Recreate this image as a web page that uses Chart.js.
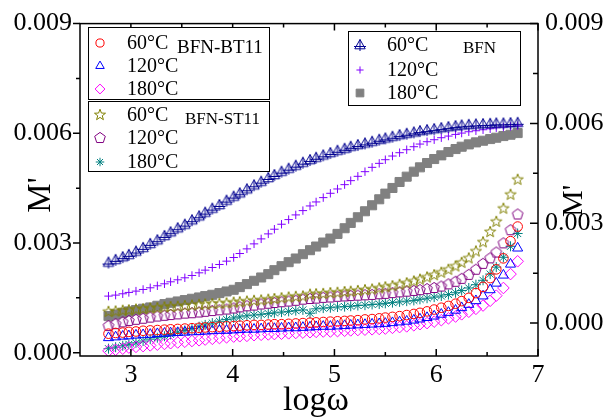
<!DOCTYPE html>
<html>
<head>
<meta charset="utf-8">
<script src="https://cdn.jsdelivr.net/npm/chart.js@4.4.1/dist/chart.umd.min.js"></script>
<style>
  body { margin: 0; background: #fff; }
</style>
</head>
<body>
<canvas id="myChart" width="608" height="417"></canvas>
<script>
// log(omega) values shared by every curve
const logw = [
  2.78, 2.85, 2.92, 2.98, 3.05, 3.12, 3.19, 3.26, 3.33, 3.39,
  3.46, 3.53, 3.60, 3.67, 3.73, 3.80, 3.87, 3.94, 4.01, 4.07,
  4.14, 4.21, 4.28, 4.35, 4.41, 4.48, 4.55, 4.62, 4.69, 4.76,
  4.82, 4.89, 4.96, 5.03, 5.10, 5.16, 5.23, 5.30, 5.37, 5.44,
  5.50, 5.57, 5.64, 5.71, 5.78, 5.84, 5.91, 5.98, 6.05, 6.12,
  6.19, 6.25, 6.32, 6.39, 6.46, 6.53, 6.59, 6.66, 6.73, 6.80
];

// BFN-BT11 (left axis)
const bt60 = [
  0.00052, 0.00054, 0.00055, 0.00057, 0.00058, 0.00060, 0.00061, 0.00062, 0.00063, 0.00064,
  0.00065, 0.00066, 0.00067, 0.00068, 0.00069, 0.00070, 0.00071, 0.00072, 0.00073, 0.00074,
  0.00075, 0.00076, 0.00076, 0.00077, 0.00078, 0.00078, 0.00079, 0.00080, 0.00081, 0.00082,
  0.00083, 0.00084, 0.00085, 0.00086, 0.00087, 0.00088, 0.00089, 0.00091, 0.00092, 0.00094,
  0.00096, 0.00098, 0.00100, 0.00103, 0.00106, 0.00109, 0.00113, 0.00118, 0.00123, 0.00128,
  0.00134, 0.00141, 0.00150, 0.00163, 0.00180, 0.00204, 0.00228, 0.00258, 0.00305, 0.00345
];
const bt120 = [
  0.00041, 0.00043, 0.00045, 0.00046, 0.00048, 0.00049, 0.00050, 0.00052, 0.00053, 0.00054,
  0.00055, 0.00056, 0.00057, 0.00058, 0.00059, 0.00060, 0.00061, 0.00061, 0.00062, 0.00063,
  0.00064, 0.00064, 0.00065, 0.00066, 0.00066, 0.00067, 0.00068, 0.00068, 0.00069, 0.00070,
  0.00071, 0.00072, 0.00072, 0.00073, 0.00074, 0.00075, 0.00076, 0.00077, 0.00078, 0.00079,
  0.00080, 0.00082, 0.00084, 0.00086, 0.00089, 0.00092, 0.00096, 0.00100, 0.00105, 0.00110,
  0.00116, 0.00123, 0.00132, 0.00142, 0.00155, 0.00172, 0.00190, 0.00212, 0.00242, 0.00286
];
const bt180 = [
  0.00005, 0.00008, 0.00011, 0.00014, 0.00016, 0.00018, 0.00020, 0.00022, 0.00024, 0.00026,
  0.00028, 0.00030, 0.00032, 0.00034, 0.00036, 0.00038, 0.00040, 0.00042, 0.00044, 0.00045,
  0.00046, 0.00048, 0.00049, 0.00050, 0.00051, 0.00052, 0.00053, 0.00054, 0.00055, 0.00056,
  0.00057, 0.00058, 0.00058, 0.00059, 0.00060, 0.00061, 0.00062, 0.00063, 0.00064, 0.00065,
  0.00066, 0.00068, 0.00070, 0.00072, 0.00075, 0.00078, 0.00081, 0.00085, 0.00089, 0.00094,
  0.00099, 0.00105, 0.00112, 0.00120, 0.00129, 0.00142, 0.00156, 0.00177, 0.00215, 0.00250
];

// BFN-ST11 (left axis)
const st60 = [
  0.00112, 0.00113, 0.00115, 0.00116, 0.00118, 0.00119, 0.00121, 0.00122, 0.00124, 0.00125,
  0.00126, 0.00128, 0.00129, 0.00131, 0.00132, 0.00133, 0.00134, 0.00135, 0.00137, 0.00138,
  0.00140, 0.00142, 0.00143, 0.00145, 0.00147, 0.00149, 0.00151, 0.00153, 0.00154, 0.00159,
  0.00160, 0.00161, 0.00163, 0.00164, 0.00166, 0.00167, 0.00169, 0.00171, 0.00173, 0.00176,
  0.00179, 0.00182, 0.00186, 0.00190, 0.00195, 0.00200, 0.00206, 0.00212, 0.00219, 0.00227,
  0.00236, 0.00246, 0.00258, 0.00277, 0.00302, 0.00330, 0.00358, 0.00394, 0.00432, 0.00473
];
const st120 = [
  0.00073, 0.00078, 0.00083, 0.00087, 0.00090, 0.00093, 0.00096, 0.00099, 0.00101, 0.00103,
  0.00105, 0.00107, 0.00108, 0.00110, 0.00112, 0.00114, 0.00116, 0.00118, 0.00121, 0.00124,
  0.00127, 0.00129, 0.00132, 0.00134, 0.00136, 0.00138, 0.00140, 0.00142, 0.00145, 0.00147,
  0.00148, 0.00150, 0.00151, 0.00153, 0.00154, 0.00155, 0.00156, 0.00157, 0.00158, 0.00160,
  0.00161, 0.00163, 0.00165, 0.00167, 0.00169, 0.00171, 0.00174, 0.00177, 0.00181, 0.00187,
  0.00194, 0.00202, 0.00213, 0.00227, 0.00243, 0.00258, 0.00274, 0.00299, 0.00335, 0.00378
];
const st180 = [
  0.00011, 0.00015, 0.00019, 0.00023, 0.00027, 0.00032, 0.00037, 0.00041, 0.00045, 0.00050,
  0.00056, 0.00061, 0.00066, 0.00071, 0.00076, 0.00081, 0.00086, 0.00091, 0.00095, 0.00098,
  0.00101, 0.00103, 0.00105, 0.00107, 0.00109, 0.00111, 0.00113, 0.00115, 0.00117, 0.00108,
  0.00120, 0.00122, 0.00123, 0.00125, 0.00126, 0.00127, 0.00129, 0.00130, 0.00132, 0.00133,
  0.00135, 0.00137, 0.00139, 0.00141, 0.00143, 0.00146, 0.00149, 0.00152, 0.00155, 0.00159,
  0.00164, 0.00170, 0.00177, 0.00186, 0.00198, 0.00215, 0.00234, 0.00261, 0.00291, 0.00326
];

// BFN (right axis)
const bfn60 = [
  0.00182, 0.00190, 0.00198, 0.00205, 0.00215, 0.00226, 0.00238, 0.00249, 0.00262, 0.00273,
  0.00285, 0.00296, 0.00309, 0.00321, 0.00332, 0.00344, 0.00355, 0.00368, 0.00380, 0.00390,
  0.00402, 0.00414, 0.00425, 0.00436, 0.00445, 0.00455, 0.00464, 0.00473, 0.00482, 0.00490,
  0.00497, 0.00504, 0.00511, 0.00518, 0.00524, 0.00530, 0.00535, 0.00540, 0.00545, 0.00551,
  0.00555, 0.00560, 0.00565, 0.00569, 0.00573, 0.00577, 0.00580, 0.00583, 0.00586, 0.00589,
  0.00592, 0.00594, 0.00596, 0.00597, 0.00598, 0.00599, 0.00600, 0.00600, 0.00601, 0.00602
];
const bfn120 = [
  0.00081, 0.00084, 0.00088, 0.00092, 0.00096, 0.00101, 0.00106, 0.00112, 0.00118, 0.00124,
  0.00130, 0.00136, 0.00143, 0.00151, 0.00159, 0.00167, 0.00176, 0.00186, 0.00197, 0.00209,
  0.00223, 0.00238, 0.00253, 0.00268, 0.00282, 0.00297, 0.00311, 0.00325, 0.00338, 0.00352,
  0.00364, 0.00377, 0.00390, 0.00403, 0.00416, 0.00428, 0.00441, 0.00455, 0.00468, 0.00480,
  0.00491, 0.00502, 0.00512, 0.00521, 0.00530, 0.00538, 0.00545, 0.00551, 0.00557, 0.00562,
  0.00567, 0.00571, 0.00575, 0.00578, 0.00581, 0.00584, 0.00587, 0.00589, 0.00591, 0.00593
];
const bfn180 = [
  0.00021, 0.00026, 0.00031, 0.00035, 0.00039, 0.00043, 0.00047, 0.00052, 0.00057, 0.00061,
  0.00065, 0.00069, 0.00073, 0.00077, 0.00081, 0.00085, 0.00090, 0.00095, 0.00100, 0.00108,
  0.00117, 0.00127, 0.00137, 0.00147, 0.00159, 0.00171, 0.00183, 0.00194, 0.00207, 0.00219,
  0.00230, 0.00242, 0.00254, 0.00268, 0.00285, 0.00301, 0.00318, 0.00336, 0.00354, 0.00372,
  0.00389, 0.00406, 0.00424, 0.00440, 0.00455, 0.00468, 0.00481, 0.00493, 0.00504, 0.00514,
  0.00523, 0.00530, 0.00537, 0.00543, 0.00548, 0.00553, 0.00557, 0.00562, 0.00566, 0.00571
];

const xTickVals = [3, 3.5, 4, 4.5, 5, 5.5, 6, 6.5, 7];
const yTickVals = [0, 0.0015, 0.003, 0.0045, 0.006, 0.0075, 0.009];

const SERIF = '"Liberation Serif", "Times New Roman", serif';

// little canvases for the marker shapes chart.js does not have
function markerCanvas(size, draw) {
  const c = document.createElement('canvas');
  c.width = size;
  c.height = size;
  const g = c.getContext('2d');
  g.translate(size / 2, size / 2);
  g.lineWidth = 1;
  draw(g);
  return c;
}
const starMark = markerCanvas(14, g => {
  g.strokeStyle = '#808000';
  g.beginPath();
  for (let k = 0; k < 10; k++) {
    const r = k % 2 ? 2.4 : 5.8;
    const a = -Math.PI / 2 + k * Math.PI / 5;
    g.lineTo(r * Math.cos(a), r * Math.sin(a));
  }
  g.closePath();
  g.stroke();
});
const pentaMark = markerCanvas(14, g => {
  g.strokeStyle = '#800080';
  g.beginPath();
  for (let k = 0; k < 5; k++) {
    const a = -Math.PI / 2 + k * 2 * Math.PI / 5;
    g.lineTo(5.6 * Math.cos(a), 5.6 * Math.sin(a));
  }
  g.closePath();
  g.stroke();
});
const triCrossMark = markerCanvas(14, g => {
  g.strokeStyle = '#000090';
  g.beginPath();
  g.moveTo(0, -5.5); g.lineTo(5.2, 3.8); g.lineTo(-5.2, 3.8); g.closePath();
  g.moveTo(0, -5.5); g.lineTo(0, 6);
  g.moveTo(-6, 1.5); g.lineTo(6, 1.5);
  g.stroke();
});

function series(vals) {
  return logw.map((x, i) => ({ x: x, y: vals[i] }));
}
function ds(label, vals, color, style, radius, axis, fill) {
  return {
    label: label,
    data: series(vals),
    yAxisID: axis,
    showLine: false,
    pointStyle: style,
    pointRadius: radius,
    pointBorderWidth: 1,
    borderColor: color,
    backgroundColor: fill || 'rgba(0,0,0,0)',
    pointHoverRadius: radius
  };
}

const datasets = [
  ds('60°C', bt60, '#ff0000', 'circle', 4.8, 'y'),
  ds('120°C', bt120, '#0000ff', 'triangle', 5.8, 'y'),
  ds('180°C', bt180, '#ff00ff', 'rectRot', 5.8, 'y'),
  ds('60°C', st60, '#808000', starMark, 6, 'y'),
  ds('120°C', st120, '#800080', pentaMark, 6, 'y'),
  ds('180°C', st180, '#008080', 'star', 5, 'y'),
  ds('60°C', bfn60, '#000090', triCrossMark, 6, 'y1'),
  ds('120°C', bfn120, '#8000ff', 'cross', 4.2, 'y1'),
  ds('180°C', bfn180, '#808080', 'rect', 6.4, 'y1', '#808080')
];

const legendBoxes = [
  { left: 88, top: 27, width: 181, height: 72, name: 'BFN-BT11', nameX: 177, nameY: 48, nameSize: 19,
    markX: 100, textX: 127, rows: [43, 66, 89], first: 0 },
  { left: 88, top: 101, width: 181, height: 70, name: 'BFN-ST11', nameX: 185, nameY: 120, nameSize: 17,
    markX: 100, textX: 127, rows: [115, 138, 162], first: 3 },
  { left: 348, top: 31, width: 172, height: 74, name: 'BFN', nameX: 463, nameY: 49, nameSize: 17,
    markX: 360, textX: 387, rows: [45, 70, 93], first: 6 }
];

function isMajor(v, step) {
  return Math.abs(v / step - Math.round(v / step)) < 1e-6;
}

const framePlugin = {
  id: 'frame',
  afterDraw(chart) {
    const { ctx, chartArea: a, scales } = chart;
    ctx.save();
    ctx.strokeStyle = '#000';
    ctx.lineWidth = 1.5;
    ctx.strokeRect(a.left, a.top, a.right - a.left, a.bottom - a.top);

    // ticks: bottom/top/right point inward, left points outward
    ctx.beginPath();
    xTickVals.forEach(v => {
      const px = scales.x.getPixelForValue(v);
      const len = isMajor(v, 1) ? 7 : 4;
      ctx.moveTo(px, a.bottom); ctx.lineTo(px, a.bottom - len);
      ctx.moveTo(px, a.top); ctx.lineTo(px, a.top + len);
    });
    yTickVals.forEach(v => {
      const major = isMajor(v, 0.003);
      const py = scales.y.getPixelForValue(v);
      ctx.moveTo(a.left, py); ctx.lineTo(a.left - (major ? 7 : 4), py);
      const py1 = scales.y1.getPixelForValue(v);
      ctx.moveTo(a.right, py1); ctx.lineTo(a.right - (major ? 8 : 5), py1);
    });
    ctx.stroke();

    // axis titles
    ctx.fillStyle = '#000';
    ctx.textAlign = 'center';
    ctx.textBaseline = 'alphabetic';
    ctx.font = '34px ' + SERIF;
    ctx.fillText('logω', 316, 410);

    ctx.save();
    ctx.translate(50, 195);
    ctx.rotate(-Math.PI / 2);
    ctx.font = '33px ' + SERIF;
    ctx.fillText("M'", 0, 0);
    ctx.restore();

    ctx.save();
    ctx.translate(582, 201);
    ctx.rotate(-Math.PI / 2);
    ctx.font = '30px ' + SERIF;
    ctx.fillText("M'", 0, 0);
    ctx.restore();

    // legends
    legendBoxes.forEach(box => {
      ctx.fillStyle = '#fff';
      ctx.fillRect(box.left, box.top, box.width, box.height);
      ctx.lineWidth = 1;
      ctx.strokeStyle = '#000';
      ctx.strokeRect(box.left + 0.5, box.top + 0.5, box.width, box.height);
      ctx.fillStyle = '#000';
      ctx.textAlign = 'left';
      ctx.textBaseline = 'middle';
      ctx.font = box.nameSize + 'px ' + SERIF;
      ctx.fillText(box.name, box.nameX, box.nameY);
      box.rows.forEach((ry, k) => {
        const d = chart.data.datasets[box.first + k];
        ctx.strokeStyle = d.borderColor;
        ctx.fillStyle = d.backgroundColor;
        Chart.helpers.drawPoint(ctx, {
          pointStyle: d.pointStyle, radius: d.pointRadius * 0.85, rotation: 0, borderWidth: 1
        }, box.markX, ry);
        ctx.fillStyle = '#000';
        ctx.font = '20px ' + SERIF;
        ctx.fillText(d.label, box.textX, ry + 1);
      });
    });
    ctx.restore();
  }
};

const tickFont = { family: SERIF, size: 26 };

new Chart(document.getElementById('myChart'), {
  type: 'scatter',
  data: { datasets: datasets },
  options: {
    responsive: false,
    animation: false,
    layout: { padding: { top: 21, left: 0, right: 0, bottom: 0 } },
    plugins: { legend: { display: false }, tooltip: { enabled: false } },
    scales: {
      x: {
        type: 'linear', min: 2.5, max: 7,
        afterBuildTicks: s => { s.ticks = xTickVals.map(v => ({ value: v })); },
        afterFit: s => { s.height = 61; },
        grid: { display: false, drawTicks: false },
        border: { display: false },
        ticks: {
          font: tickFont, color: '#000', padding: 4, maxRotation: 0, autoSkip: false,
          callback: v => isMajor(v, 1) ? String(v) : ''
        }
      },
      y: {
        position: 'left', min: -0.00009, max: 0.009,
        afterBuildTicks: s => { s.ticks = yTickVals.map(v => ({ value: v })); },
        afterFit: s => { s.width = 80; },
        grid: { display: false, drawTicks: false },
        border: { display: false },
        ticks: {
          font: tickFont, color: '#000', padding: 8, autoSkip: false,
          callback: v => isMajor(v, 0.003) ? v.toFixed(3) : ''
        }
      },
      y1: {
        position: 'right', min: -0.00099, max: 0.009,
        afterBuildTicks: s => { s.ticks = yTickVals.map(v => ({ value: v })); },
        afterFit: s => { s.width = 70; },
        grid: { display: false, drawTicks: false },
        border: { display: false },
        ticks: {
          font: tickFont, color: '#000', padding: 7, autoSkip: false,
          callback: v => isMajor(v, 0.003) ? v.toFixed(3) : ''
        }
      }
    }
  },
  plugins: [framePlugin]
});
</script>
</body>
</html>
